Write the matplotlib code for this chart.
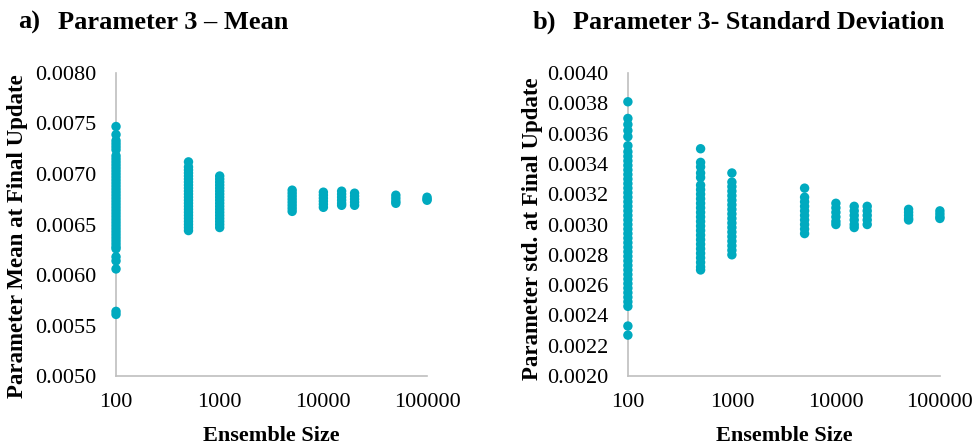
import numpy as np
import matplotlib
matplotlib.use("Agg")
import matplotlib.pyplot as plt
from matplotlib.ticker import FixedLocator, FixedFormatter, NullLocator

# ensemble sizes and values
sizes = [100, 500, 1000, 5000, 10000, 15000, 20000, 50000, 100000]

mean_vals = {
    100: [0.00747, 0.00739, 0.00733, 0.00730, 0.00727, 0.00724, 0.00718, 0.00715,
          0.00712, 0.00709, 0.00706, 0.00703, 0.00700, 0.00697, 0.00694, 0.00691,
          0.00688, 0.00685, 0.00682, 0.00679, 0.00676, 0.00673, 0.00670, 0.00667,
          0.00664, 0.00661, 0.00658, 0.00655, 0.00652, 0.00649, 0.00646, 0.00643,
          0.00640, 0.00637, 0.00634, 0.00631, 0.00628, 0.00626, 0.00618, 0.00614,
          0.00606, 0.00564, 0.00561],
    500: [0.00712, 0.00707, 0.00704, 0.00701, 0.00698, 0.00695, 0.00692, 0.00689,
          0.00686, 0.00683, 0.00680, 0.00677, 0.00674, 0.00671, 0.00668, 0.00665,
          0.00662, 0.00659, 0.00656, 0.00653, 0.00650, 0.00647, 0.00644],
    1000: [0.00698, 0.00695, 0.00692, 0.00689, 0.00686, 0.00683, 0.00680, 0.00677,
           0.00674, 0.00671, 0.00668, 0.00665, 0.00662, 0.00659, 0.00656, 0.00653,
           0.00650, 0.00647],
    5000: [0.00684, 0.00681, 0.00678, 0.00675, 0.00672, 0.00669, 0.00666, 0.00663],
    10000: [0.00682, 0.00679, 0.00676, 0.00673, 0.00670, 0.00667],
    15000: [0.00683, 0.00680, 0.00677, 0.00674, 0.00671, 0.00669],
    20000: [0.00681, 0.00678, 0.00675, 0.00672, 0.00669],
    50000: [0.00679, 0.00676, 0.00673, 0.00671],
    100000: [0.00677, 0.00675, 0.00674],
}

std_vals = {
    100: [0.00381, 0.00370, 0.00366, 0.00362, 0.00358, 0.00352, 0.00348, 0.00345,
          0.00342, 0.00339, 0.00336, 0.00333, 0.00330, 0.00327, 0.00324, 0.00321,
          0.00318, 0.00315, 0.00312, 0.00309, 0.00306, 0.00303, 0.00300, 0.00297,
          0.00294, 0.00291, 0.00288, 0.00285, 0.00282, 0.00279, 0.00276, 0.00273,
          0.00270, 0.00267, 0.00264, 0.00261, 0.00258, 0.00255, 0.00252, 0.00249,
          0.00246, 0.00233, 0.00227],
    500: [0.00350, 0.00341, 0.00338, 0.00334, 0.00331, 0.00326, 0.00323, 0.00320,
          0.00317, 0.00314, 0.00311, 0.00308, 0.00305, 0.00302, 0.00299, 0.00296,
          0.00293, 0.00290, 0.00287, 0.00284, 0.00281, 0.00278, 0.00275, 0.00272,
          0.00270],
    1000: [0.00334, 0.00328, 0.00325, 0.00322, 0.00319, 0.00316, 0.00313, 0.00310,
           0.00307, 0.00304, 0.00301, 0.00298, 0.00295, 0.00292, 0.00289, 0.00286,
           0.00283, 0.00280],
    5000: [0.00324, 0.00318, 0.00315, 0.00312, 0.00309, 0.00306, 0.00303, 0.00300,
           0.00297, 0.00294],
    10000: [0.00314, 0.00311, 0.00308, 0.00305, 0.00302, 0.00300],
    15000: [0.00312, 0.00309, 0.00306, 0.00303, 0.00300, 0.00298],
    20000: [0.00312, 0.00309, 0.00306, 0.00303, 0.00300],
    50000: [0.00310, 0.00308, 0.00306, 0.00304, 0.00303],
    100000: [0.00309, 0.00307, 0.00305, 0.00304],
}

x_ticks = [100, 1000, 10000, 100000]
x_tick_labels = ["100", "1000", "10000", "100000"]
mean_ticks = [0.0050, 0.0055, 0.0060, 0.0065, 0.0070, 0.0075, 0.0080]
std_ticks = [0.0020, 0.0022, 0.0024, 0.0026, 0.0028, 0.0030, 0.0032,
             0.0034, 0.0036, 0.0038, 0.0040]

COLOR = "#00AABF"
plt.rcParams["font.family"] = ["Liberation Serif", "DejaVu Serif"]

fig = plt.figure(figsize=(9.75, 4.45), dpi=100)
ax1 = fig.add_axes([0.119, 0.155, 0.319, 0.681])
ax2 = fig.add_axes([0.644, 0.155, 0.320, 0.681])


def draw_panel(ax, vals, yticks, ylabel, label_xy):
    for s in sizes:
        ys = vals[s]
        sc = ax.scatter([s] * len(ys), ys, s=46, color=COLOR, edgecolors="none", zorder=3)
        sc.set_clip_on(False)
    ax.set_xscale("log")
    ax.set_xlim(100, 100000)
    ax.set_ylim(yticks[0], yticks[-1])
    ax.xaxis.set_major_locator(FixedLocator(x_ticks))
    ax.xaxis.set_major_formatter(FixedFormatter(x_tick_labels))
    ax.xaxis.set_minor_locator(NullLocator())
    ax.set_yticks(yticks)
    ax.set_yticklabels([f"{t:.4f}" for t in yticks])
    ax.tick_params(axis="both", length=0, labelsize=16)
    ax.tick_params(axis="y", pad=14)
    ax.tick_params(axis="x", pad=12)
    for side in ["top", "right"]:
        ax.spines[side].set_visible(False)
    for side in ["left", "bottom"]:
        ax.spines[side].set_color("#BFBFBF")
        ax.spines[side].set_linewidth(1.2)
    ax.set_xlabel("Ensemble Size", fontsize=16, fontweight="bold", labelpad=10)
    ax.set_ylabel(ylabel, fontsize=16.5, fontweight="bold")
    ax.yaxis.set_label_coords(*label_xy)


draw_panel(ax1, mean_vals, mean_ticks, "Parameter Mean at Final Update", (-0.283, 0.462))
draw_panel(ax2, std_vals, std_ticks, "Parameter std. at Final Update", (-0.272, 0.485))

title_y = 1 - 29 / 445
fig.text(18 / 975, title_y, "a)", fontsize=19, fontweight="bold", ha="left", va="baseline")
fig.text(58 / 975, title_y, "Parameter 3 \u2013 Mean", fontsize=19, fontweight="bold",
         ha="left", va="baseline")
fig.text(533 / 975, title_y, "b)", fontsize=19, fontweight="bold", ha="left", va="baseline")
fig.text(573 / 975, title_y, "Parameter 3- Standard Deviation", fontsize=18.8,
         fontweight="bold", ha="left", va="baseline")

fig.savefig("out.png", dpi=100)
